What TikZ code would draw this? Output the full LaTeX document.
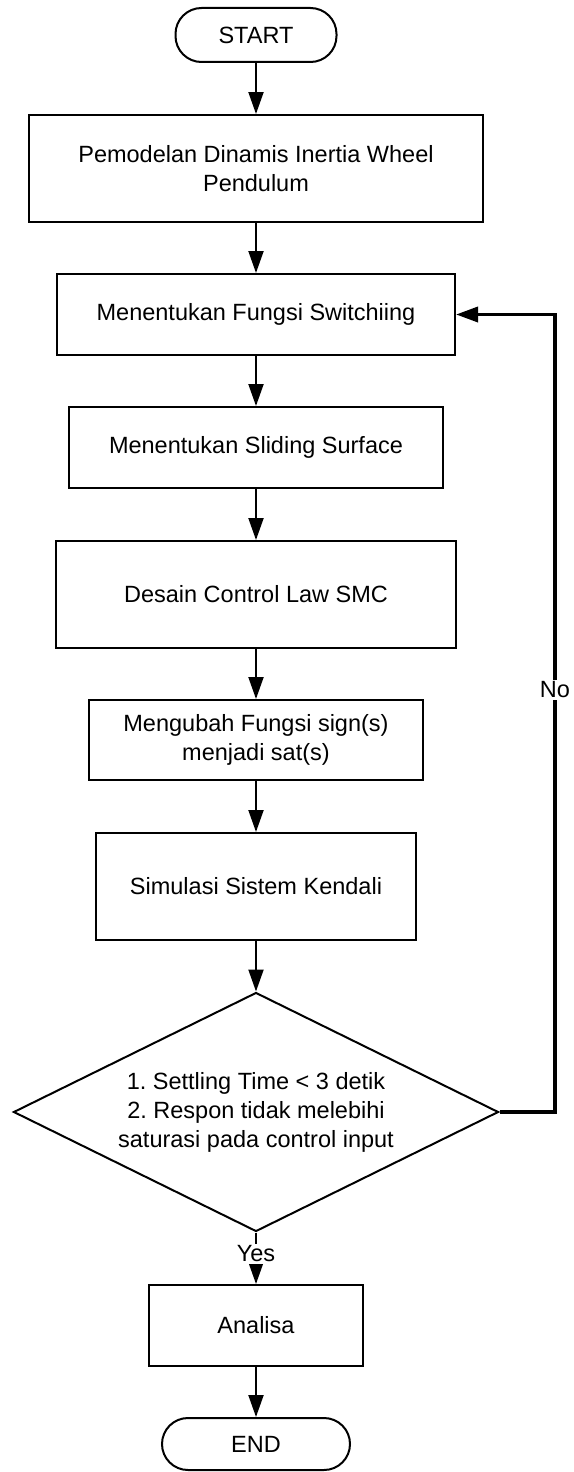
\documentclass[tikz,border=0pt]{standalone}
\usepackage{fontspec}
\setmainfont{Liberation Sans}
\usetikzlibrary{shapes.geometric,arrows.meta}
\frenchspacing
\begin{document}
\begin{tikzpicture}[x=1pt,y=-1pt,
  every node/.style={font=\fontsize{23.5}{29}\selectfont, align=center, inner sep=0pt},
  procbox/.style={draw=black, line width=2pt, rectangle},
  termbox/.style={draw=black, line width=2pt, rectangle, rounded corners=26pt},
  decbox/.style={draw=black, line width=2pt, diamond, inner sep=0pt},
  conn/.style={line width=2pt, -{Triangle[length=22pt,width=15pt]}},
  fbconn/.style={line width=3.5pt, -{Triangle[length=22pt,width=15pt]}},
  lbl/.style={fill=white, inner sep=2pt}]
\useasboundingbox (0,0) rectangle (573,1472);
\node[termbox, minimum width=161pt, minimum height=54pt] (start) at (256,35) {START};
\node[procbox, minimum width=454pt, minimum height=107pt] (b1) at (256,168.5) {Pemodelan Dinamis Inertia Wheel\\Pendulum};
\node[procbox, minimum width=398pt, minimum height=81pt] (b2) at (256,314.5) {Menentukan Fungsi Switchiing};
\node[procbox, minimum width=374pt, minimum height=81pt] (b3) at (256,447.5) {Menentukan Sliding Surface};
\node[procbox, minimum width=400pt, minimum height=107pt] (b4) at (256,594.5) {Desain Control Law SMC};
\node[procbox, minimum width=334pt, minimum height=80pt] (b5) at (256,740) {Mengubah Fungsi sign(s)\\menjadi sat(s)};
\node[procbox, minimum width=320pt, minimum height=107pt] (b6) at (256,886.5) {Simulasi Sistem Kendali};
\node[decbox, minimum width=485pt, minimum height=239pt, aspect=2.03] (dec) at (256,1112) {1. Settling Time < 3 detik\\2. Respon tidak melebihi\\saturasi pada control input};
\node[procbox, minimum width=214pt, minimum height=81pt] (b7) at (256,1325.5) {Analisa};
\node[termbox, minimum width=188pt, minimum height=52pt] (end) at (256,1444) {END};
\coordinate (fbcorner) at (555,314.5);
\draw[conn] (start) -- (b1);
\draw[conn] (b1) -- (b2);
\draw[conn] (b2) -- (b3);
\draw[conn] (b3) -- (b4);
\draw[conn] (b4) -- (b5);
\draw[conn] (b5) -- (b6);
\draw[conn] (b6) -- (dec);
\draw[conn] (dec.south) -- (b7.north);
\draw[conn] (b7) -- (end);
\draw[fbconn] (dec.east) -| (fbcorner) -- (b2.east);
\node[lbl] (yes) at (256,1254) {Yes};
\node[lbl] (no) at (555,690) {No};
\end{tikzpicture}
\end{document}
